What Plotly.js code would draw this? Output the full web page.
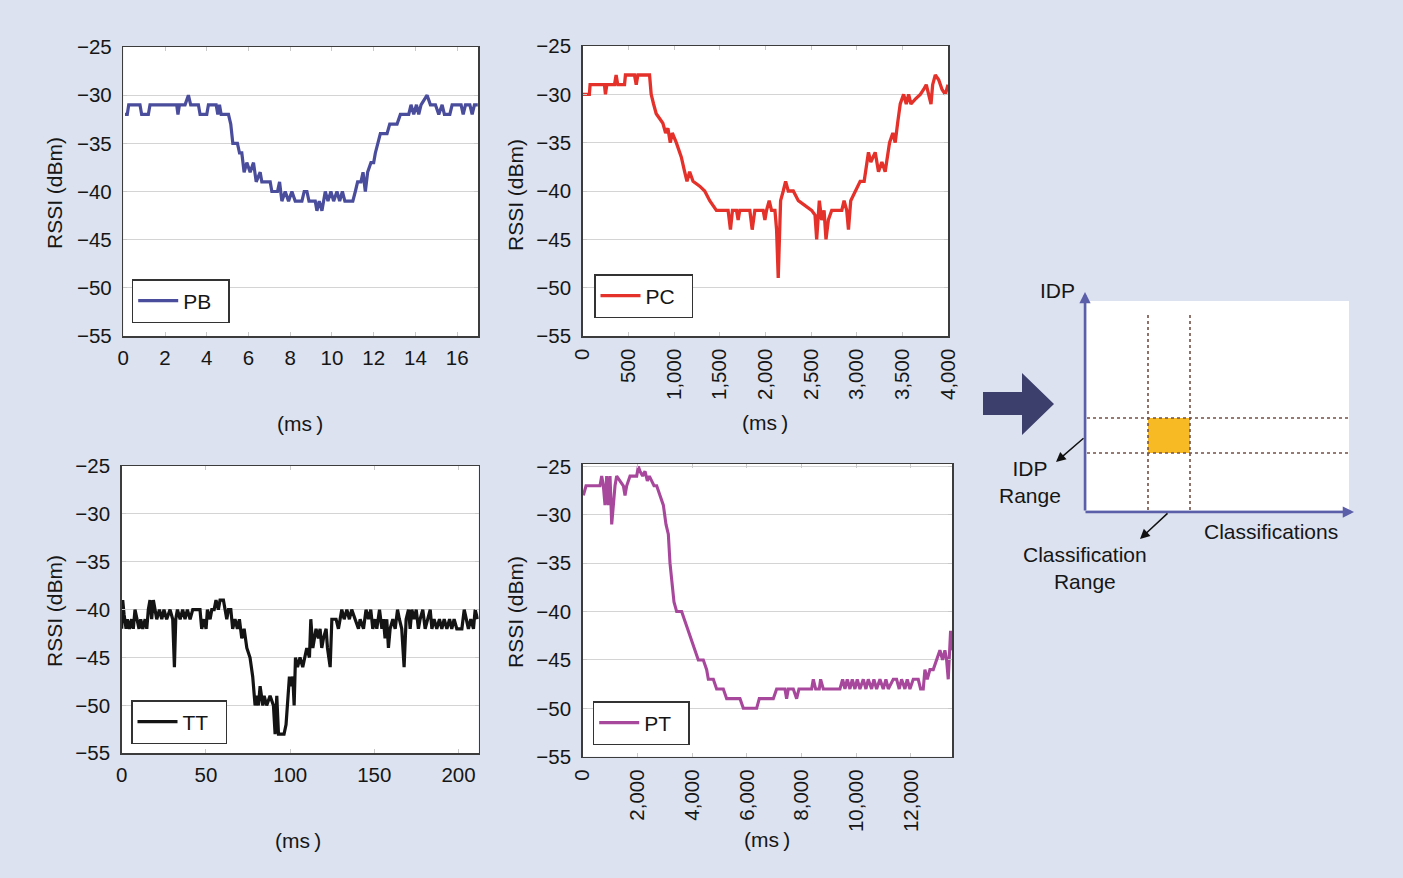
<!DOCTYPE html>
<html>
<head>
<meta charset="utf-8">
<script src="https://cdn.plot.ly/plotly-3.0.1.min.js"></script>
<style>html,body{margin:0;padding:0;background:#dce2ef;}#chart{width:1403px;height:878px;}</style>
</head>
<body>
<div id="chart"></div>
<script>
// ---------------- data ----------------
const pbTime = [0.08,0.19,0.26,0.8,0.88,1.2,1.28,2.56,2.62,2.69,2.96,3.12,3.23,3.6,3.68,4.0,4.08,4.45,4.53,4.61,4.69,5.04,5.15,5.25,5.47,5.57,5.68,5.79,5.92,6.08,6.24,6.37,6.56,6.64,7.04,7.12,7.39,7.49,7.6,7.76,7.92,8.08,8.24,8.56,8.67,8.8,8.9,9.2,9.28,9.39,9.52,9.68,9.81,9.95,10.08,10.24,10.37,10.5,10.62,11.0,11.12,11.23,11.39,11.49,11.6,11.71,11.87,12.0,12.08,12.19,12.32,12.64,12.77,13.12,13.28,13.68,13.79,13.92,14.05,14.16,14.27,14.56,14.72,14.96,15.12,15.28,15.39,15.65,15.76,16.19,16.29,16.4,16.61,16.72,16.83,16.99];
const pbRssi = [-32,-32,-31,-31,-32,-32,-31,-31,-32,-31,-31,-30,-31,-31,-32,-32,-31,-31,-32,-31,-32,-32,-33,-35,-35,-36,-36,-38,-37,-38,-37,-39,-38,-39,-39,-40,-40,-39,-41,-40,-41,-40,-41,-41,-40,-40,-41,-41,-42,-41,-42,-40,-41,-40,-41,-40,-41,-40,-41,-41,-40,-39,-39,-38,-40,-38,-37,-37,-36,-35,-34,-34,-33,-33,-32,-32,-31,-32,-31,-32,-31,-30,-31,-31,-32,-31,-32,-32,-31,-31,-32,-31,-31,-32,-31,-31];

const pcTime = [0,73,81,238,249,264,348,366,384,458,468,567,586,604,732,750,776,805,842,878,908,933,959,981,1025,1080,1116,1142,1171,1208,1281,1336,1391,1427,1464,1592,1618,1640,1684,1702,1720,1830,1856,1885,1976,1995,2013,2042,2068,2105,2123,2141,2167,2196,2222,2251,2306,2361,2434,2507,2544,2562,2591,2617,2643,2664,2690,2727,2837,2862,2891,2910,2935,2983,3038,3082,3111,3129,3155,3203,3239,3276,3312,3331,3360,3396,3422,3448,3477,3514,3543,3569,3594,3642,3697,3733,3762,3788,3814,3832,3861,3898,3935,3971,4000];
const pcRssi = [-30,-30,-29,-29,-30,-29,-29,-28,-29,-29,-28,-28,-29,-28,-28,-30,-31,-32,-32.5,-33,-34,-33.5,-35,-34,-35,-36.5,-38,-39,-38,-39,-39.5,-40,-41,-41.5,-42,-42,-44,-42,-42,-43,-42,-42,-44,-42,-42,-43,-42,-41,-42,-42,-44,-49,-41,-40,-39,-40,-40,-41,-41.5,-42,-42.5,-45,-41,-43,-42,-45,-43,-42,-42,-41,-42,-44,-41,-40,-39,-39,-37,-36,-37,-36,-38,-37,-38,-37,-35,-34,-35,-33,-31,-30,-31,-30,-31,-30.5,-30,-29.5,-29,-30,-31,-29,-28,-28.5,-29.5,-30,-29];

const ttTime = [0,0.6,1.4,2.6,3.4,4.6,5.9,6.9,7.9,8.9,10.3,11.3,12.5,13.9,14.9,15.8,16.8,17.8,18.8,19.8,20.8,22.4,23.8,25.1,26.7,28.7,30.3,31.3,32.1,33.1,34.7,36.2,37.6,39.0,40.6,42.2,46.5,47.5,48.9,50.1,50.9,52.5,53.5,54.9,56.0,57.4,58.4,60.4,61.4,62.4,63.4,64.8,65.9,67.3,68.7,69.9,71.3,72.7,74.3,76.2,77.8,79.2,80.2,81.2,82.2,83.8,84.6,86.1,88.1,90.1,91.1,92.1,93.1,95.0,96.4,97.6,98.4,99.6,100.4,101.6,102.4,103.2,104.4,105.9,107.5,108.9,109.9,111.5,112.3,113.5,114.3,115.4,116.8,117.8,118.8,119.8,121.4,122.2,123.8,124.8,127.3,128.7,130.7,132.1,133.7,135.2,136.6,138.6,140.6,141.6,143.6,145.1,146.5,147.9,149.1,150.5,151.5,153.1,154.5,155.4,156.4,157.4,158.4,159.4,161.0,162.4,163.8,164.9,166.3,167.7,168.9,170.3,171.3,172.3,173.7,174.9,176.2,177.2,178.8,180.2,181.6,183.2,184.2,185.5,187.1,188.7,190.1,191.5,193.1,194.7,196.0,197.4,199.0,202.0,203.4,204.6,205.9,207.3,208.9,209.9,211.3];
const ttRssi = [-42,-39,-40.5,-42,-41,-42,-41,-42,-40,-41,-42,-41,-42,-41,-42,-40,-39,-41,-39,-40,-41,-40,-41,-40,-41,-40,-41,-46,-41,-40,-41,-40,-41,-40,-41,-40,-40,-42,-41,-42,-40,-41,-40,-40,-39,-40,-39,-39,-40,-41,-40,-40,-42,-41,-42,-41,-43,-42,-44,-45,-47,-50,-49,-50,-48,-50,-49,-50,-49,-50,-53,-49,-53,-53,-53,-52,-50,-47,-48,-47,-50,-45,-46,-45,-46,-45,-44,-45,-41,-44,-43,-42,-43,-42,-44,-43,-42,-44,-46,-41,-41,-42,-40,-41,-40,-41,-40,-41,-42,-41,-42,-40,-41,-40,-42,-41,-42,-40,-42,-41,-43,-41,-44,-42,-41,-42,-40,-41,-42,-46,-41,-40,-42,-40,-41,-40,-42,-41,-40,-42,-41,-40,-42,-41,-42,-41,-42,-41,-42,-41,-42,-41,-42,-42,-40,-41,-42,-41,-42,-40,-41];

const ptTime = [24,122,633,694,755,816,877,938,999,1060,1121,1181,1242,1364,1486,1547,1608,1730,1973,2034,2095,2192,2278,2363,2436,2521,2607,2704,2826,2948,3045,3130,3191,3252,3337,3435,3617,3739,3861,3983,4105,4226,4409,4531,4592,4775,4896,5140,5262,5749,5871,6358,6455,6967,7089,7393,7454,7515,7698,7820,7905,8368,8429,8514,8648,8697,8794,9403,9500,9586,9671,9768,9854,9951,10036,10134,10256,10353,10438,10560,10645,10743,10865,10986,11084,11169,11352,11474,11571,11656,11778,11863,11961,12083,12265,12351,12448,12509,12594,12692,12814,12935,13057,13154,13240,13301,13362,13447,13508];
const ptRssi = [-28,-27,-27,-26,-27,-29,-26,-29,-26,-31,-29,-27,-26,-26.5,-27,-28,-27,-26,-26,-25,-25.5,-26,-25.5,-26.5,-26,-26.5,-27,-27,-28,-29,-31,-32,-35,-37,-39,-40,-40,-41,-42,-43,-44,-45,-45,-46,-47,-47,-48,-48,-49,-49,-50,-50,-49,-49,-48,-48,-49,-48,-48,-49,-48,-48,-47,-48,-48,-47,-48,-48,-47,-48,-47,-48,-47,-48,-47,-48,-47,-48,-47,-48,-47,-48,-47,-48,-47,-48,-47,-47,-48,-47,-48,-47,-48,-47,-47,-48,-48,-46,-47,-46,-46,-45,-44,-45,-44,-45,-47,-42,-44];

const seriesNames = ['PB','PC','TT','PT'];
const seriesColors = ['#4a4c9c','#e4322b','#141414','#a8489c'];
const yTitle = 'RSSI (dBm)';
const xTitle = '(ms\u2009)';
const diagramLabels = ['IDP','IDP<br>Range','Classifications','Classification<br>Range'];

// ---------------- layout helpers ----------------
const W = 1403, H = 878;
const X = p => p / W;
const Y = p => 1 - p / H;
const FONT = 'Liberation Sans, Arial, Helvetica, sans-serif';
const TXT = '#161616';
const TICKSIZE = 20.5, LABELSIZE = 21;

function xAx(dom, anchor, range, dtick, extra) {
  return Object.assign({
    domain: [X(dom[0]), X(dom[1])], anchor: anchor, range: range, dtick: dtick, tick0: 0,
    showgrid: false, zeroline: false, showline: true, linecolor: '#3c3c3c', linewidth: 1.5,
    mirror: 'allticks', ticks: 'inside', ticklen: 4, tickcolor: '#c9c9c9', tickwidth: 1,
    tickfont: {family: FONT, size: TICKSIZE, color: TXT}, ticklabelstandoff: 3, fixedrange: true
  }, extra || {});
}
function yAx(dom, anchor, range) {
  return {
    domain: [Y(dom[1]), Y(dom[0])], anchor: anchor, range: range, dtick: 5, tick0: -55,
    showgrid: true, gridcolor: '#d4d4d4', gridwidth: 1, zeroline: false,
    showline: true, linecolor: '#3c3c3c', linewidth: 1.5, mirror: 'allticks',
    ticks: 'inside', ticklen: 4, tickcolor: '#c9c9c9',
    tickfont: {family: FONT, size: TICKSIZE, color: TXT}, ticklabelstandoff: 6, fixedrange: true
  };
}
function legendAt(left, midY) {
  return {x: X(left), y: Y(midY), xanchor: 'left', yanchor: 'middle', bgcolor: '#ffffff',
    bordercolor: '#333333', borderwidth: 1.5, font: {family: FONT, size: LABELSIZE, color: TXT},
    itemwidth: 40, tracegroupgap: 0};
}

const xs = [pbTime, pcTime, ttTime, ptTime];
const ys = [pbRssi, pcRssi, ttRssi, ptRssi];
const lw = [3.2, 3.3, 3.2, 3.1];
const traces = xs.map((x, i) => ({
  x: x, y: ys[i], type: 'scatter', mode: 'lines', name: seriesNames[i] + '\u00a0\u00a0',
  line: {color: seriesColors[i], width: lw[i]},
  xaxis: i === 0 ? 'x' : 'x' + (i + 1), yaxis: i === 0 ? 'y' : 'y' + (i + 1),
  legend: i === 0 ? 'legend' : 'legend' + (i + 1), showlegend: true, hoverinfo: 'skip'
}));

const annotations = [];
// axis titles
[[300,423],[765,422],[298,840],[767,839]].forEach(p => annotations.push({
  xref:'paper', yref:'paper', x:X(p[0]), y:Y(p[1]), text:xTitle, showarrow:false,
  font:{family:FONT, size:LABELSIZE, color:TXT}, xanchor:'center', yanchor:'middle'}));
[[55,193],[515,195],[54,611],[515,612]].forEach(p => annotations.push({
  xref:'paper', yref:'paper', x:X(p[0]), y:Y(p[1]), text:yTitle, showarrow:false, textangle:-90,
  font:{family:FONT, size:LABELSIZE, color:TXT}, xanchor:'center', yanchor:'middle'}));
// diagram labels
[[1057,291],[1030,482],[1271,531],[1085,568]].forEach((p,i) => annotations.push({
  xref:'paper', yref:'paper', x:X(p[0]), y:Y(p[1]), text:diagramLabels[i], showarrow:false,
  font:{family:FONT, size:LABELSIZE, color:TXT}, xanchor:'center', yanchor:'middle', align:'center'}));
// diagram arrows
const arrow = (hx, hy, tx, ty, col, w, size) => annotations.push({
  xref:'paper', yref:'paper', x:X(hx), y:Y(hy), ax:tx-hx, ay:ty-hy, text:'', showarrow:true,
  arrowhead:2, arrowsize:size, arrowwidth:w, arrowcolor:col, standoff:0, startstandoff:0});
arrow(1085, 292, 1085, 512, '#5b5ea8', 2.5, 0.9);
arrow(1354, 512, 1084, 512, '#5b5ea8', 2.5, 0.9);
arrow(1056, 462, 1085, 437, '#111111', 1.5, 1.3);
arrow(1140, 539, 1169, 512, '#111111', 1.5, 1.3);

const dot = {color:'#735046', width:1.6, dash:'dot'};
const shapes = [
  {type:'rect', xref:'paper', yref:'paper', x0:X(1087), x1:X(1349), y0:Y(510), y1:Y(301), fillcolor:'#ffffff', line:{width:0}, layer:'below'},
  {type:'rect', xref:'paper', yref:'paper', x0:X(1148), x1:X(1190), y0:Y(453), y1:Y(418), fillcolor:'#f7b924', line:{width:0}},
  {type:'line', xref:'paper', yref:'paper', x0:X(1148), x1:X(1148), y0:Y(510), y1:Y(313), line:dot},
  {type:'line', xref:'paper', yref:'paper', x0:X(1190), x1:X(1190), y0:Y(510), y1:Y(313), line:dot},
  {type:'line', xref:'paper', yref:'paper', x0:X(1087), x1:X(1349), y0:Y(418), y1:Y(418), line:dot},
  {type:'line', xref:'paper', yref:'paper', x0:X(1087), x1:X(1349), y0:Y(453), y1:Y(453), line:dot},
  {type:'path', xref:'paper', yref:'paper', fillcolor:'#3c3e6c', line:{width:0},
   path:'M'+X(983)+','+Y(392)+' L'+X(1022)+','+Y(392)+' L'+X(1022)+','+Y(373)+' L'+X(1054)+','+Y(404)+' L'+X(1022)+','+Y(435)+' L'+X(1022)+','+Y(415)+' L'+X(983)+','+Y(415)+' Z'}
];

const layout = {
  width: W, height: H, margin: {l:0, r:0, t:0, b:0},
  paper_bgcolor: '#dce2ef', plot_bgcolor: '#ffffff',
  font: {family: FONT, color: TXT},
  showlegend: true,
  xaxis: xAx([123.3, 478], 'y', [0, 17], 2),
  yaxis: yAx([47, 336], 'x', [-55, -25]),
  xaxis2: xAx([582.7, 948], 'y2', [0, 4000], 500, {tickformat: ',d', tickangle: -90}),
  yaxis2: yAx([46, 336], 'x2', [-55, -25]),
  xaxis3: xAx([121.7, 478.7], 'y3', [0, 212], 50),
  yaxis3: yAx([466, 753.3], 'x3', [-55, -25]),
  xaxis4: xAx([582.7, 952.3], 'y4', [0, 13510], 2000, {tickformat: ',d', tickangle: -90}),
  yaxis4: yAx([464, 756.7], 'x4', [-55, -24.75]),
  legend: legendAt(131.7, 301),
  legend2: legendAt(594, 296),
  legend3: legendAt(131, 722),
  legend4: legendAt(592.7, 723),
  annotations: annotations,
  shapes: shapes
};

Plotly.newPlot('chart', traces, layout, {staticPlot: true, displayModeBar: false});
</script>
</body>
</html>
